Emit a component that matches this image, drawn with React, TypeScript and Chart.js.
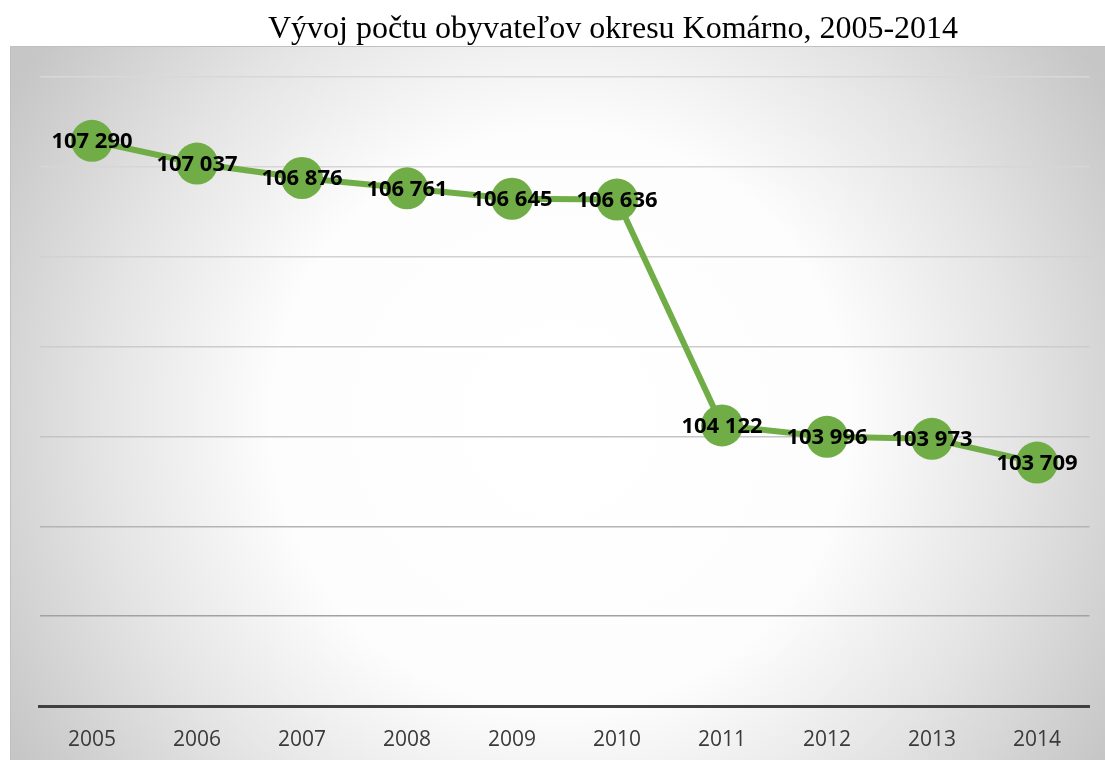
import React, { useEffect, useRef } from "react";
import { Chart, registerables } from "chart.js";

Chart.register(...registerables);

const TITLE = "Vývoj počtu obyvateľov okresu Komárno, 2005-2014";
const YEARS = ["2005", "2006", "2007", "2008", "2009", "2010", "2011", "2012", "2013", "2014"];
const POPULATION = [107290, 107037, 106876, 106761, 106645, 106636, 104122, 103996, 103973, 103709];
const Y_MIN = 101000;
const Y_MAX = 108000;
const Y_STEP = 1000;
const GRID_COLORS = ["#8e8e8e", "#a2a2a2", "#b4b4b4", "#c4c4c4", "#cccccc", "#d2d2d2", "#d6d6d6", "#d8d8d8"];

const W = 1105;
const H = 760;

function fmt(v: number): string {
  const s = String(Math.round(v));
  return s.replace(/\B(?=(\d{3})+(?!\d))/g, " ");
}

const bgPlugin = {
  id: "bgPlugin",
  beforeDraw(chart: any) {
    const ctx = chart.ctx as CanvasRenderingContext2D;
    ctx.save();
    ctx.fillStyle = "#ffffff";
    ctx.fillRect(0, 0, W, H);
    const bx = 10, by = 46, bw = W - 10, bh = H - 46;
    const g = ctx.createRadialGradient(560, 420, 0, 560, 420, 640);
    g.addColorStop(0, "#ffffff");
    g.addColorStop(0.45, "#fdfdfd");
    g.addColorStop(0.72, "#e4e4e4");
    g.addColorStop(1, "#c6c6c6");
    ctx.fillStyle = g;
    ctx.fillRect(bx, by, bw, bh);
    ctx.strokeStyle = "#c0c0c0";
    ctx.lineWidth = 1;
    ctx.beginPath();
    ctx.moveTo(bx + 0.5, H);
    ctx.lineTo(bx + 0.5, by + 0.5);
    ctx.lineTo(W, by + 0.5);
    ctx.stroke();
    ctx.fillStyle = "#000000";
    ctx.font = "32px 'Liberation Serif', 'Times New Roman', serif";
    ctx.textAlign = "center";
    ctx.textBaseline = "alphabetic";
    ctx.fillText(TITLE, 613, 38);
    ctx.restore();
  },
};

const labelPlugin = {
  id: "labelPlugin",
  afterDatasetsDraw(chart: any) {
    const ctx = chart.ctx as CanvasRenderingContext2D;
    const meta = chart.getDatasetMeta(0);
    ctx.save();
    ctx.fillStyle = "#000000";
    ctx.font = "bold 22px 'Open Sans', sans-serif";
    ctx.textAlign = "center";
    ctx.textBaseline = "middle";
    meta.data.forEach((pt: any, i: number) => {
      ctx.fillText(fmt(POPULATION[i]), pt.x, pt.y + 1);
    });
    ctx.restore();
  },
};

export default function App() {
  const ref = useRef<HTMLCanvasElement | null>(null);
  useEffect(() => {
    if (!ref.current) return;
    const chart = new Chart(ref.current, {
      type: "line",
      data: {
        labels: YEARS,
        datasets: [
          {
            data: POPULATION,
            borderColor: "#70ad47",
            backgroundColor: "#70ad47",
            borderWidth: 6,
            pointRadius: 21,
            pointHoverRadius: 21,
            pointBackgroundColor: "#70ad47",
            pointBorderWidth: 0,
            tension: 0,
            clip: false,
          },
        ],
      },
      options: {
        responsive: false,
        animation: false,
        events: [],
        layout: { autoPadding: false, padding: { left: 39.5, right: 15.5, top: 77, bottom: 0 } },
        plugins: { legend: { display: false }, tooltip: { enabled: false }, title: { display: false } },
        scales: {
          x: {
            offset: true,
            grid: { display: false, drawTicks: false },
            border: { display: true, color: "#404040", width: 3 },
            ticks: {
              color: "#3a3a3a",
              font: { family: "'Open Sans', sans-serif", size: 21 },
              padding: 21,
              maxRotation: 0,
            },
            afterFit(scale: any) {
              scale.height = 54;
              scale.paddingLeft = 0;
              scale.paddingRight = 0;
            },
          },
          y: {
            min: Y_MIN,
            max: Y_MAX,
            ticks: { display: false, stepSize: Y_STEP },
            border: { display: false },
            grid: {
              drawTicks: false,
              lineWidth: 1.5,
              color: (c: any) => (c.tick && c.tick.value === Y_MIN ? "rgba(0,0,0,0)" : GRID_COLORS[c.index] || "#cccccc"),
            },
            afterFit(scale: any) {
              scale.width = 0;
              scale.paddingTop = 0;
              scale.paddingBottom = 0;
            },
          },
        },
      },
      plugins: [bgPlugin, labelPlugin],
    });
    return () => chart.destroy();
  }, []);
  return (
    <div style={{ position: "absolute", left: 0, top: 0, width: W, height: H }}>
      <canvas ref={ref} width={W} height={H} style={{ width: W, height: H, display: "block" }} />
    </div>
  );
}
